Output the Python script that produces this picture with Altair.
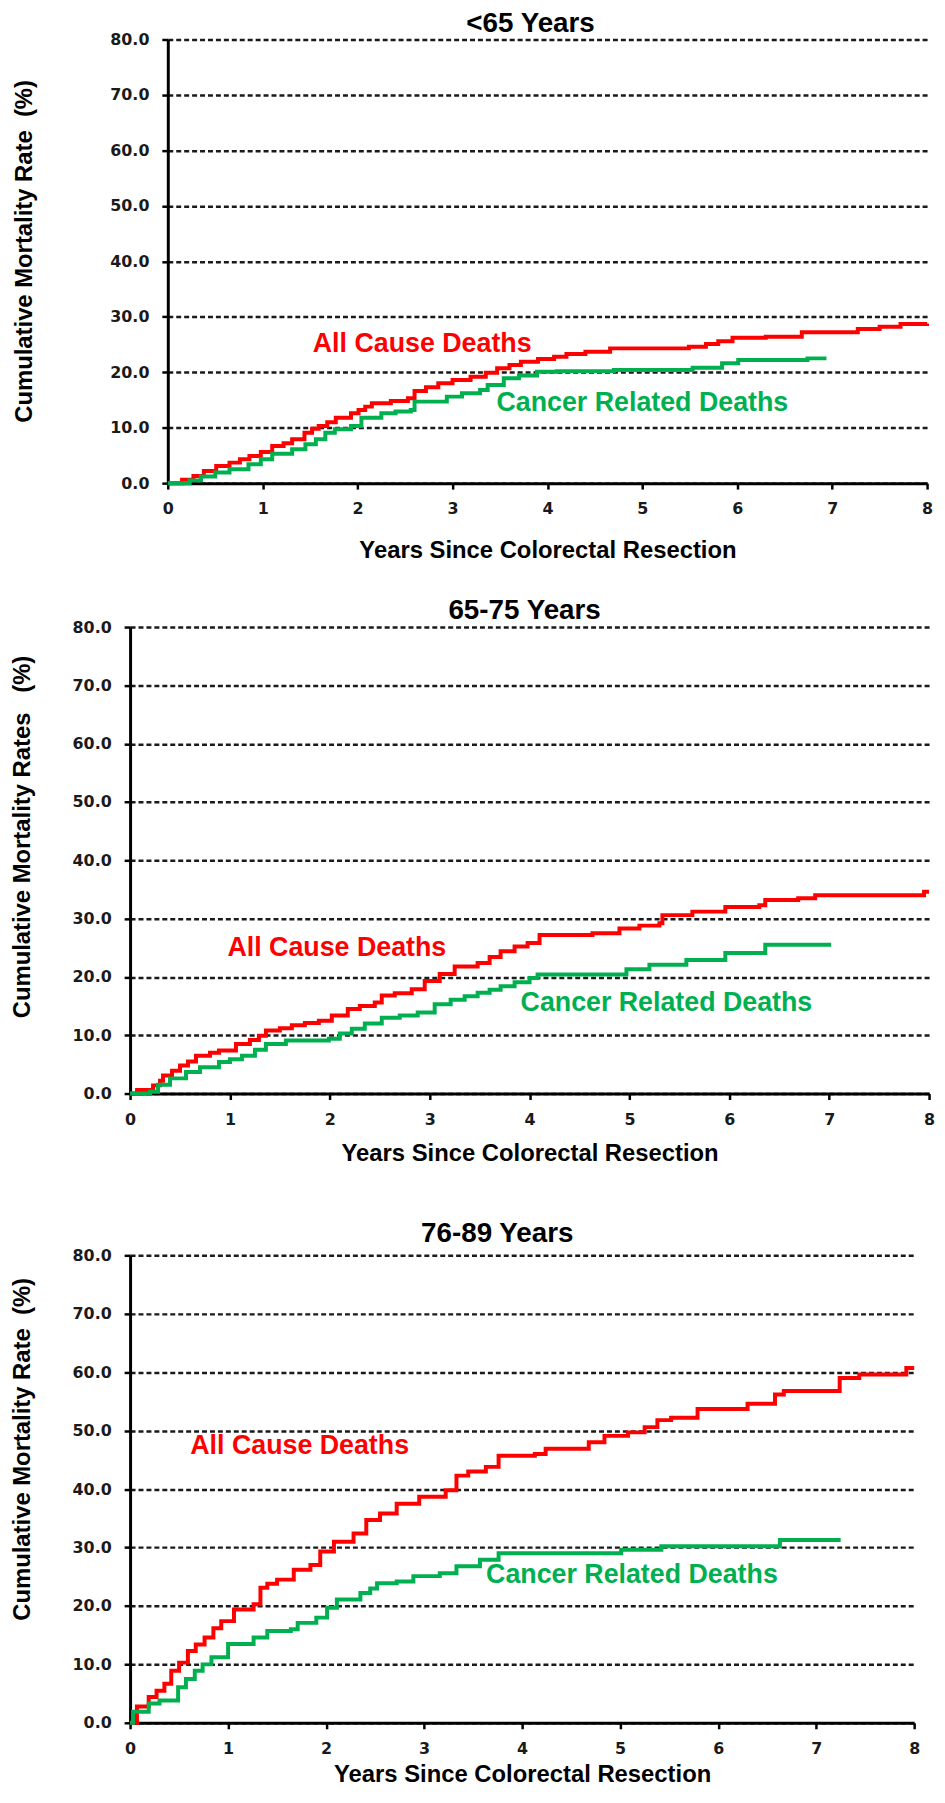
import altair as alt
import pandas as pd

# ---------------- data ----------------
X_TICKS = [0, 1, 2, 3, 4, 5, 6, 7, 8]
Y_TICKS = [0, 10, 20, 30, 40, 50, 60, 70, 80]
SERIES = ["All Cause Deaths", "Cancer Related Deaths"]

# Panel 1: <65 years
P1_ALL_YEARS = [0, 0.15, 0.27, 0.38, 0.51, 0.65, 0.76, 0.86, 0.98, 1.10, 1.22, 1.31, 1.44, 1.52,
                1.59, 1.68, 1.77, 1.93, 2.01, 2.08, 2.15, 2.35, 2.53, 2.60, 2.72, 2.85, 3.00, 3.19,
                3.35, 3.47, 3.60, 3.72, 3.90, 4.07, 4.20, 4.40, 4.66, 5.49, 5.67, 5.80, 5.95, 6.30,
                6.68, 7.27, 7.50, 7.72, 8.00]
P1_ALL_RATE = [0, 0.6, 1.3, 2.2, 3.1, 3.7, 4.3, 4.9, 5.6, 6.7, 7.2, 7.9, 9.1, 9.8,
               10.3, 11.0, 11.8, 12.6, 13.2, 13.8, 14.4, 14.8, 15.3, 16.6, 17.3, 18.0, 18.6, 19.2,
               19.9, 20.7, 21.3, 21.9, 22.4, 22.8, 23.3, 23.7, 24.3, 24.6, 25.1, 25.6, 26.2, 26.4,
               27.2, 27.8, 28.2, 28.7, 28.8]
P1_CAN_YEARS = [0, 0.23, 0.35, 0.50, 0.65, 0.85, 0.98, 1.10, 1.31, 1.45, 1.56, 1.66, 1.76, 1.93,
                2.04, 2.25, 2.40, 2.56, 2.60, 2.94, 3.10, 3.29, 3.37, 3.54, 3.70, 3.89, 4.10, 4.70,
                5.53, 5.84, 6.01, 6.74, 6.94]
P1_CAN_RATE = [0, 0.5, 1.2, 1.9, 2.5, 3.4, 4.3, 5.3, 6.1, 7.0, 7.9, 9.1, 9.7, 10.3,
               11.8, 12.6, 12.9, 13.2, 14.7, 15.6, 16.2, 16.8, 17.7, 18.9, 19.4, 20.1, 20.2, 20.4,
               20.8, 21.6, 22.2, 22.5, 22.5]

# Panel 2: 65-75 years
P2_ALL_YEARS = [0, 0.07, 0.23, 0.30, 0.33, 0.42, 0.50, 0.58, 0.66, 0.80, 0.89, 1.06, 1.20, 1.29,
                1.36, 1.50, 1.62, 1.75, 1.89, 2.02, 2.18, 2.30, 2.45, 2.52, 2.65, 2.82, 2.95, 3.10,
                3.25, 3.48, 3.60, 3.71, 3.85, 3.98, 4.10, 4.63, 4.90, 5.10, 5.30, 5.33, 5.63, 5.96,
                6.30, 6.36, 6.69, 6.86, 7.95, 8.00]
P2_ALL_RATE = [0, 0.6, 1.4, 2.2, 3.1, 3.9, 4.8, 5.5, 6.5, 7.0, 7.4, 8.5, 9.2, 9.9,
               10.8, 11.2, 11.7, 12.1, 12.5, 13.4, 14.5, 15.0, 15.6, 16.8, 17.2, 17.9, 19.3, 20.5,
               21.8, 22.4, 23.4, 24.4, 25.2, 25.8, 27.2, 27.5, 28.3, 28.8, 29.2, 30.6, 31.2, 32.0,
               32.3, 33.2, 33.5, 34.0, 34.6, 34.6]
P2_CAN_YEARS = [0, 0.20, 0.28, 0.40, 0.56, 0.70, 0.89, 1.00, 1.12, 1.25, 1.36, 1.56, 1.99, 2.10,
                2.22, 2.35, 2.52, 2.70, 2.88, 3.05, 3.21, 3.35, 3.48, 3.60, 3.71, 3.85, 4.00, 4.08,
                4.97, 5.20, 5.57, 5.96, 6.36, 7.02]
P2_CAN_RATE = [0, 0.3, 1.5, 2.6, 3.7, 4.5, 5.4, 5.9, 6.5, 7.5, 8.5, 9.1, 9.4, 10.3,
               11.1, 12.0, 13.0, 13.4, 13.9, 15.3, 16.1, 16.7, 17.3, 17.8, 18.4, 19.1, 19.8, 20.4,
               21.3, 22.1, 22.9, 24.1, 25.5, 25.5]

# Panel 3: 76-89 years
P3_ALL_YEARS = [0, 0.07, 0.19, 0.27, 0.35, 0.42, 0.50, 0.59, 0.67, 0.76, 0.85, 0.93, 1.06, 1.26,
                1.33, 1.40, 1.50, 1.67, 1.84, 1.94, 2.08, 2.28, 2.41, 2.55, 2.72, 2.95, 3.22, 3.33,
                3.45, 3.63, 3.76, 4.13, 4.24, 4.68, 4.84, 5.08, 5.25, 5.38, 5.52, 5.79, 6.30, 6.58,
                6.67, 7.24, 7.44, 7.92, 8.00]
P3_ALL_RATE = [0, 2.8, 4.4, 5.5, 6.7, 8.9, 10.3, 12.3, 13.4, 14.6, 16.2, 17.4, 19.4, 20.3,
               23.1, 23.8, 24.5, 26.2, 27.0, 29.3, 31.0, 32.4, 34.7, 35.8, 37.5, 38.7, 39.8, 42.3,
               43.0, 43.8, 45.7, 46.0, 46.9, 48.0, 49.1, 49.7, 50.6, 51.8, 52.2, 53.7, 54.6, 56.2,
               56.8, 59.0, 59.6, 60.7, 60.7]
P3_CAN_YEARS = [0, 0.03, 0.19, 0.30, 0.49, 0.57, 0.66, 0.74, 0.83, 1.00, 1.26, 1.40, 1.64, 1.71,
                1.90, 2.01, 2.11, 2.35, 2.45, 2.52, 2.72, 2.89, 3.16, 3.33, 3.57, 3.76, 5.01, 5.42,
                6.63, 7.25]
P3_CAN_RATE = [0, 1.9, 3.3, 3.8, 6.1, 7.5, 8.9, 10.0, 11.2, 13.5, 14.6, 15.7, 16.0, 17.1,
               18.0, 19.7, 21.1, 22.2, 23.0, 23.9, 24.2, 25.1, 25.6, 26.8, 27.9, 29.0, 29.6, 30.2,
               31.3, 31.3]

# in-plot series labels (data coordinates: year, rate)
P1_LABEL_YEARS = [2.68, 5.00]
P1_LABEL_RATES = [25.1, 14.4]
P2_LABEL_YEARS = [2.07, 5.37]
P2_LABEL_RATES = [24.9, 15.6]
P3_LABEL_YEARS = [1.73, 5.12]
P3_LABEL_RATES = [47.4, 25.3]

RED = "#ff0000"
GREEN = "#00b050"
NB = "\u00a0"
X_TITLE = "Years Since Colorectal Resection"

color_scale = alt.Scale(domain=SERIES, range=[RED, GREEN])


def make_panel(title, ytitle, xtitle, all_x, all_y, can_x, can_y, lab_x, lab_y,
               width, height, inset, y_title_x, y_title_y, x_tp, x_lh,
               t_offset, t_dx, t_dy):
    rows = [{"year": a, "rate": b, "series": SERIES[0]} for a, b in zip(all_x, all_y)]
    rows += [{"year": a, "rate": b, "series": SERIES[1]} for a, b in zip(can_x, can_y)]
    df = pd.DataFrame(rows)
    ann = pd.DataFrame({"year": lab_x, "rate": lab_y, "series": SERIES})

    x_scale = alt.Scale(domain=[0, 8], nice=False, range=[inset, inset + width])
    x = alt.X("year:Q", scale=x_scale,
              axis=alt.Axis(values=X_TICKS, format="d", grid=False, labelFlush=False,
                            title=xtitle, titlePadding=x_tp, titleLineHeight=x_lh))
    y = alt.Y("rate:Q", scale=alt.Scale(domain=[0, 80], nice=False),
              axis=alt.Axis(values=Y_TICKS, format=".1f", grid=True, title=ytitle,
                            offset=-inset,
                            titleX=y_title_x, titleY=y_title_y, titleAngle=270,
                            titleAlign="center", titleBaseline="bottom"))
    color = alt.Color("series:N", scale=color_scale, legend=None)

    lines = alt.Chart(df).mark_line(interpolate="step-after", strokeWidth=4).encode(
        x=x, y=y, color=color, detail="series:N")
    text = alt.Chart(ann).mark_text(font="Liberation Sans", fontSize=27, fontWeight="bold",
                                    align="center", baseline="middle").encode(
        x="year:Q", y="rate:Q", text="series:N", color=color)
    return alt.layer(lines, text).properties(
        width=inset + width, height=height,
        title=alt.TitleParams(text=title, font="Liberation Sans", fontSize=28,
                              fontWeight="bold", color="black", anchor="middle",
                              frame="group", offset=t_offset, dx=t_dx, dy=t_dy))


p1 = make_panel("<65 Years", "Cumulative Mortality Rate" + NB * 2 + "(%)", X_TITLE,
                P1_ALL_YEARS, P1_ALL_RATE, P1_CAN_YEARS, P1_CAN_RATE,
                P1_LABEL_YEARS, P1_LABEL_RATES,
                width=765, height=447, inset=38, y_title_x=-132, y_title_y=213,
                x_tp=22, x_lh=24, t_offset=2, t_dx=2, t_dy=8)
p2 = make_panel("65-75 Years", "Cumulative Mortality Rates" + NB * 3 + "(%)",
                [X_TITLE, NB],
                P2_ALL_YEARS, P2_ALL_RATE, P2_CAN_YEARS, P2_CAN_RATE,
                P2_LABEL_YEARS, P2_LABEL_RATES,
                width=805, height=470, inset=0, y_title_x=-96, y_title_y=211,
                x_tp=14, x_lh=21, t_offset=2, t_dx=-5, t_dy=8)
p3 = make_panel("76-89 Years", "Cumulative Mortality Rate" + NB * 2 + "(%)", X_TITLE,
                P3_ALL_YEARS, P3_ALL_RATE, P3_CAN_YEARS, P3_CAN_RATE,
                P3_LABEL_YEARS, P3_LABEL_RATES,
                width=790, height=471, inset=0, y_title_x=-96, y_title_y=195,
                x_tp=6, x_lh=24, t_offset=8, t_dx=-25, t_dy=9)

chart = alt.vconcat(p1, p2, p3, spacing=35).properties(
    padding={"left": 2, "top": -5, "right": 0, "bottom": 0}
).configure_view(stroke=None).configure_axis(
    domainColor="black", domainWidth=3, tickColor="black", tickWidth=2.5, tickSize=6,
    labelFont="DejaVu Sans", labelFontSize=16, labelFontWeight="bold", labelColor="#1a1a1a",
    titleFont="Liberation Sans", titleFontSize=24, titleFontWeight="bold", titleColor="black",
    gridColor="#1a1a1a", gridDash=[5, 3], gridWidth=2.5, gridOpacity=1
).configure_axisX(labelPadding=12).configure_axisY(labelPadding=13)

chart.save("out.html", embed_options={"renderer": "svg", "actions": False})
